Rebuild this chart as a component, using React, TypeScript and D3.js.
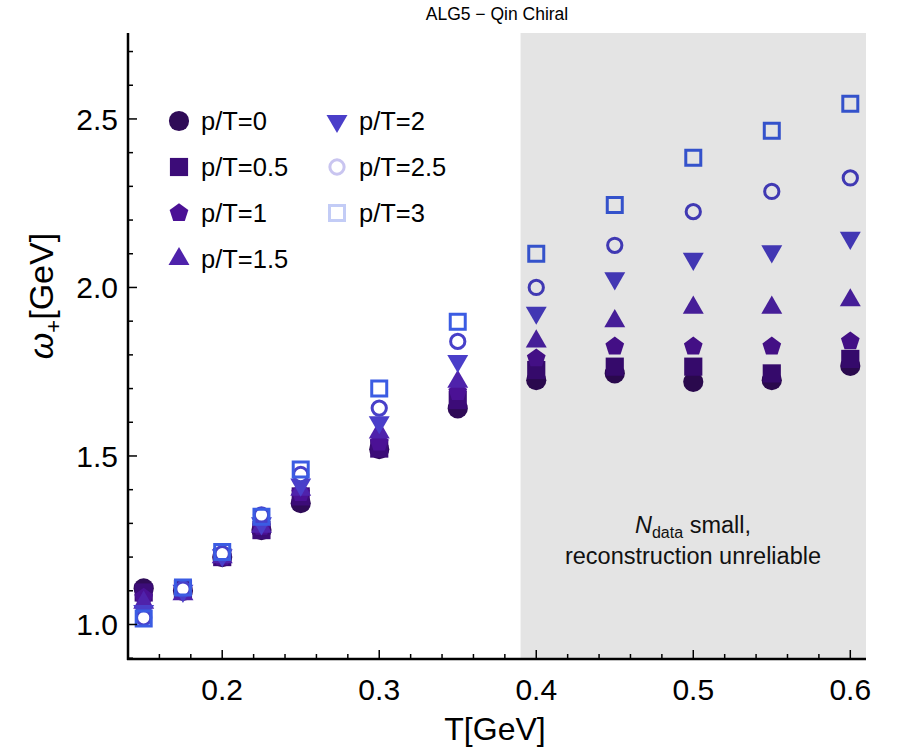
import { useEffect, useRef } from 'react';
import * as d3 from 'd3';

// temperatures (GeV)
const temps = [0.15, 0.175, 0.2, 0.225, 0.25, 0.3, 0.35, 0.4, 0.45, 0.5, 0.55, 0.6];

// omega_+ (GeV) for each p/T
const pT0 = [1.107, 1.10, 1.20, 1.28, 1.36, 1.52, 1.641, 1.725, 1.745, 1.72, 1.725, 1.767];
const pT05 = [1.095, 1.105, 1.20, 1.28, 1.38, 1.522, 1.666, 1.755, 1.765, 1.765, 1.745, 1.788];
const pT1 = [1.08, 1.10, 1.20, 1.29, 1.39, 1.54, 1.69, 1.79, 1.825, 1.825, 1.825, 1.84];
const pT15 = [1.065, 1.09, 1.20, 1.29, 1.40, 1.57, 1.72, 1.84, 1.90, 1.94, 1.94, 1.962];
const pT2 = [1.04, 1.10, 1.205, 1.30, 1.415, 1.60, 1.782, 1.925, 2.027, 2.085, 2.107, 2.147];
const pT25 = [1.02, 1.105, 1.21, 1.325, 1.445, 1.642, 1.84, 2.00, 2.125, 2.225, 2.285, 2.325];
const pT3 = [1.018, 1.11, 1.215, 1.32, 1.46, 1.70, 1.898, 2.10, 2.245, 2.385, 2.465, 2.545];

const labels = ['p/T=0', 'p/T=0.5', 'p/T=1', 'p/T=1.5', 'p/T=2', 'p/T=2.5', 'p/T=3'];

const xTicks = [0.2, 0.3, 0.4, 0.5, 0.6];
const yTicks = [1.0, 1.5, 2.0, 2.5];

const pentagon: d3.SymbolType = {
  draw(ctx, size) {
    const r = Math.sqrt(size / 2.378);
    for (let i = 0; i < 5; i++) {
      const a = -Math.PI / 2 + (i * 2 * Math.PI) / 5;
      const px = r * Math.cos(a);
      const py = r * Math.sin(a);
      if (i === 0) ctx.moveTo(px, py);
      else ctx.lineTo(px, py);
    }
    ctx.closePath();
  },
};

interface SeriesStyle {
  values: number[];
  symbol: d3.SymbolType;
  size: number;
  color: string;
  legendColor: string;
  open: boolean;
  rotate?: number;
}

const seriesStyles: SeriesStyle[] = [
  { values: pT0, symbol: d3.symbolCircle, size: 320, color: '#2f0b57', legendColor: '#2f0b57', open: false },
  { values: pT05, symbol: d3.symbolSquare, size: 330, color: '#3c0c78', legendColor: '#3c0c78', open: false },
  { values: pT1, symbol: pentagon, size: 230, color: '#4b1195', legendColor: '#4b1195', open: false },
  { values: pT15, symbol: d3.symbolTriangle, size: 190, color: '#4f22ab', legendColor: '#4f22ab', open: false },
  { values: pT2, symbol: d3.symbolTriangle, size: 190, color: '#4a3ec9', legendColor: '#4a3ec9', open: false, rotate: 180 },
  { values: pT25, symbol: d3.symbolCircle, size: 160, color: '#4840c9', legendColor: '#c9c5f0', open: true },
  { values: pT3, symbol: d3.symbolSquare, size: 225, color: '#3b5ce3', legendColor: '#c3ccf6', open: true },
];

const FONT = '"Liberation Sans", Arial, Helvetica, sans-serif';

export default function App() {
  const svgRef = useRef<SVGSVGElement>(null);
  const width = 900;
  const height = 750;

  useEffect(() => {
    const svg = d3.select(svgRef.current);
    svg.selectAll('*').remove();

    const left = 128, right = 866, top = 33, bottom = 659;

    const x = d3.scaleLinear().domain([0.14, 0.61]).range([left, right]);
    const y = d3.scaleLinear().domain([0.8976, 2.755]).range([bottom, top]);

    svg.append('rect').attr('width', width).attr('height', height).attr('fill', '#fff');

    // data points
    seriesStyles.forEach((s, si) => {
      const sym = d3.symbol().type(s.symbol).size(s.size);
      svg.append('g')
        .selectAll('path')
        .data(temps.map((t, i) => ({ t, v: s.values[i] })))
        .enter().append('path')
        .attr('d', sym)
        .attr('transform', d => `translate(${x(d.t)},${y(d.v)})${s.rotate ? ` rotate(${s.rotate})` : ''}`)
        .attr('fill', s.open ? (si === 5 ? '#fff' : 'none') : s.color)
        .attr('stroke', s.open ? s.color : 'none')
        .attr('stroke-width', s.open ? 3 : 0);
    });

    // shaded region (drawn on top, semi-transparent)
    svg.append('rect')
      .attr('x', x(0.39))
      .attr('y', top)
      .attr('width', x(0.61) - x(0.39))
      .attr('height', bottom - top)
      .attr('fill', '#000')
      .attr('opacity', 0.105);

    // annotation
    const ann = svg.append('text')
      .attr('x', 693)
      .attr('y', 533)
      .attr('text-anchor', 'middle')
      .style('font-family', FONT)
      .style('font-size', '23.5px')
      .style('fill', '#111');
    ann.append('tspan').style('font-style', 'italic').text('N');
    ann.append('tspan').attr('dy', 5).style('font-size', '16px').text('data');
    ann.append('tspan').attr('dy', -5).text(' small,');
    svg.append('text')
      .attr('x', 693)
      .attr('y', 564)
      .attr('text-anchor', 'middle')
      .style('font-family', FONT)
      .style('font-size', '23.5px')
      .style('fill', '#111')
      .text('reconstruction unreliable');

    // axes
    const xMinor = d3.range(0.14, 0.6001, 0.02).map(v => +v.toFixed(3));
    const yMinor = d3.range(0.9, 2.7001, 0.1).map(v => +v.toFixed(2));

    svg.append('g').selectAll('line')
      .data(xMinor)
      .enter().append('line')
      .attr('x1', d => x(d)).attr('x2', d => x(d))
      .attr('y1', bottom)
      .attr('y2', d => (xTicks.some(t => Math.abs(t - d) < 1e-6) ? bottom - 9 : bottom - 5))
      .attr('stroke', '#000').attr('stroke-width', 1.5);

    svg.append('g').selectAll('line')
      .data(yMinor)
      .enter().append('line')
      .attr('y1', d => y(d)).attr('y2', d => y(d))
      .attr('x1', left)
      .attr('x2', d => (yTicks.some(t => Math.abs(t - d) < 1e-6) ? left + 9 : left + 5))
      .attr('stroke', '#000').attr('stroke-width', 1.5);

    svg.append('line')
      .attr('x1', left - 1).attr('x2', right)
      .attr('y1', bottom).attr('y2', bottom)
      .attr('stroke', '#000').attr('stroke-width', 2.5);
    svg.append('line')
      .attr('x1', left).attr('x2', left)
      .attr('y1', top).attr('y2', bottom + 1)
      .attr('stroke', '#000').attr('stroke-width', 2.5);

    svg.append('g').selectAll('text')
      .data(xTicks)
      .enter().append('text')
      .attr('x', d => x(d))
      .attr('y', 700)
      .attr('text-anchor', 'middle')
      .style('font-family', FONT)
      .style('font-size', '30px')
      .text(d => d3.format('.1f')(d));

    svg.append('g').selectAll('text')
      .data(yTicks)
      .enter().append('text')
      .attr('x', 118)
      .attr('y', d => y(d) + 11)
      .attr('text-anchor', 'end')
      .style('font-family', FONT)
      .style('font-size', '30px')
      .text(d => d3.format('.1f')(d));

    // axis labels
    svg.append('text')
      .attr('x', 495)
      .attr('y', 740)
      .attr('text-anchor', 'middle')
      .style('font-family', FONT)
      .style('font-size', '32px')
      .text('T[GeV]');

    const yl = svg.append('text')
      .attr('transform', 'translate(53,296) rotate(-90)')
      .attr('text-anchor', 'middle')
      .style('font-family', FONT)
      .style('font-size', '34px');
    yl.append('tspan').style('font-style', 'italic').text('ω');
    yl.append('tspan').attr('dy', 8).style('font-size', '22px').text('+');
    yl.append('tspan').attr('dy', -8).text('[GeV]');

    // title
    svg.append('text')
      .attr('x', 497)
      .attr('y', 20)
      .attr('text-anchor', 'middle')
      .style('font-family', FONT)
      .style('font-size', '17.5px')
      .text('ALG5 \u2212 Qin Chiral');

    // legend
    const legendPos = [
      [179, 121], [179, 167], [179, 213], [179, 259],
      [337, 121], [337, 167], [337, 213],
    ];
    seriesStyles.forEach((s, i) => {
      const [lx, ly] = legendPos[i];
      const sym = d3.symbol().type(s.symbol).size(s.size);
      svg.append('path')
        .attr('d', sym)
        .attr('transform', `translate(${lx},${ly})${s.rotate ? ` rotate(${s.rotate})` : ''}`)
        .attr('fill', s.open ? 'none' : s.legendColor)
        .attr('stroke', s.open ? s.legendColor : 'none')
        .attr('stroke-width', s.open ? 3 : 0);
      svg.append('text')
        .attr('x', lx + 22)
        .attr('y', ly + 9)
        .style('font-family', FONT)
        .style('font-size', '25.5px')
        .text(labels[i]);
    });
  }, []);

  return (
    <svg
      ref={svgRef}
      width={width}
      height={height}
      style={{ position: 'absolute', left: 0, top: 0, display: 'block' }}
    />
  );
}
